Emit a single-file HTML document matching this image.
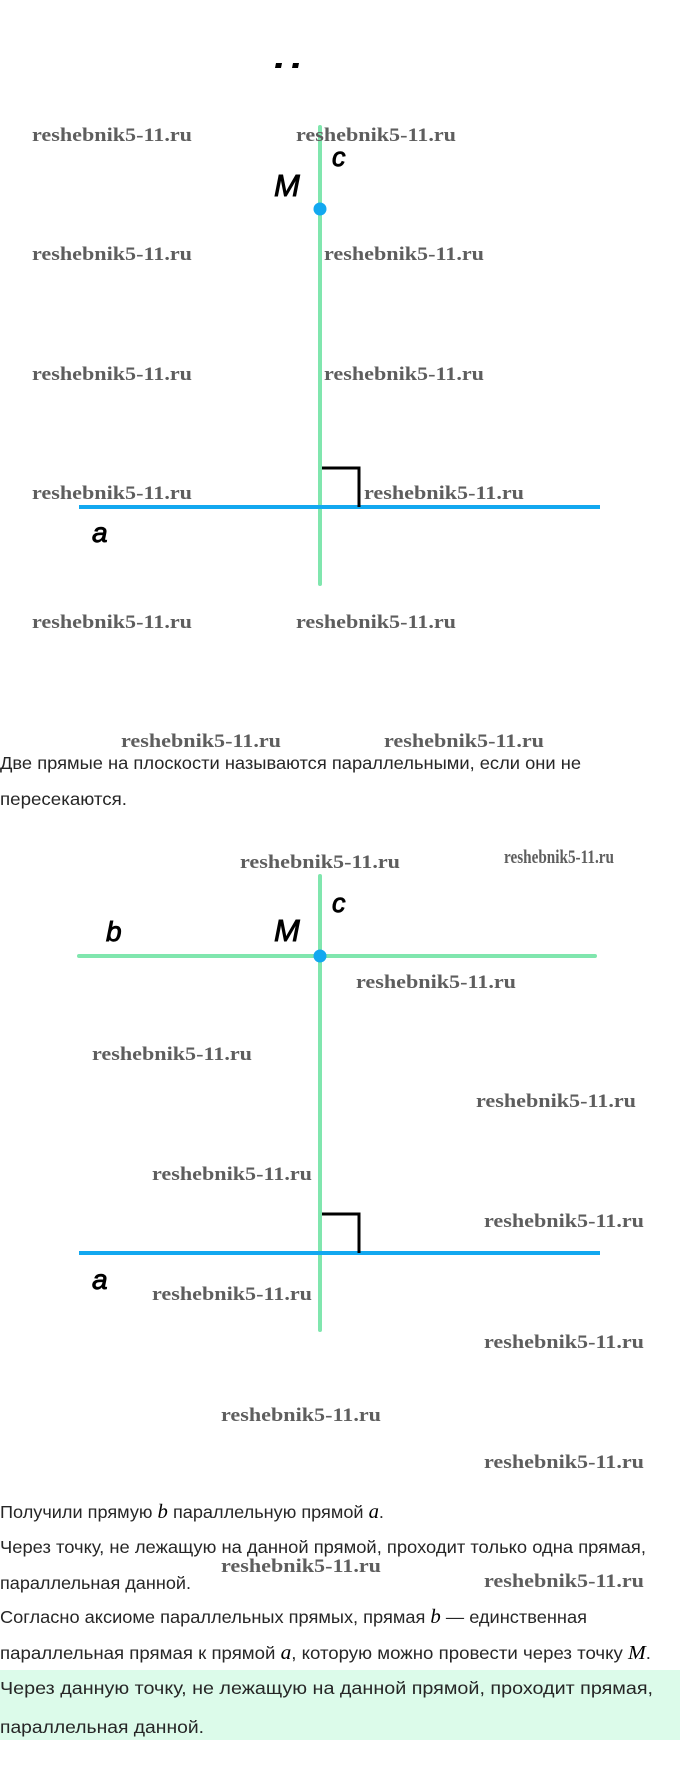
<!DOCTYPE html>
<html><head><meta charset="utf-8"><style>
html,body{margin:0;padding:0;background:#fff;}
svg{display:block;}
.w{font-family:"Liberation Serif",serif;font-weight:bold;font-size:19px;fill:#5e5e5e;}
.t{font-family:"Liberation Sans",sans-serif;font-size:17.5px;fill:#262626;}
.l{font-family:"Liberation Sans",sans-serif;font-style:italic;fill:#000;stroke:#000;stroke-width:0.9;}
.m{font-family:"Liberation Serif",serif;font-style:italic;font-size:20px;fill:#000;}
</style></head><body>
<svg width="680" height="1774" viewBox="0 0 680 1774" xmlns="http://www.w3.org/2000/svg">
<rect x="0" y="1670" width="680" height="70" fill="#dcfbea"/>
<polygon points="276,63 282,63 281,68 275,68" fill="#000"/>
<polygon points="293,63 299,63 298,68 292,68" fill="#000"/>

<line x1="320" y1="127" x2="320" y2="584" stroke="#80e6ae" stroke-width="4" stroke-linecap="round"/>
<line x1="79" y1="507" x2="600" y2="507" stroke="#12a8f0" stroke-width="4"/>
<polyline points="322,468 359,468 359,507" fill="none" stroke="#000" stroke-width="3"/>
<circle cx="320" cy="209" r="6.5" fill="#12a8f0"/>
<text class="l" x="274" y="196" font-size="31">M</text>
<text class="l" x="332" y="166" font-size="27">c</text>
<text class="l" x="92" y="542" font-size="28">a</text>

<text class="w" x="32" y="141" textLength="160" lengthAdjust="spacingAndGlyphs">reshebnik5-11.ru</text>
<text class="w" x="296" y="141" textLength="160" lengthAdjust="spacingAndGlyphs">reshebnik5-11.ru</text>
<text class="w" x="32" y="260" textLength="160" lengthAdjust="spacingAndGlyphs">reshebnik5-11.ru</text>
<text class="w" x="324" y="260" textLength="160" lengthAdjust="spacingAndGlyphs">reshebnik5-11.ru</text>
<text class="w" x="32" y="380" textLength="160" lengthAdjust="spacingAndGlyphs">reshebnik5-11.ru</text>
<text class="w" x="324" y="380" textLength="160" lengthAdjust="spacingAndGlyphs">reshebnik5-11.ru</text>
<text class="w" x="32" y="499" textLength="160" lengthAdjust="spacingAndGlyphs">reshebnik5-11.ru</text>
<text class="w" x="364" y="499" textLength="160" lengthAdjust="spacingAndGlyphs">reshebnik5-11.ru</text>
<text class="w" x="32" y="628" textLength="160" lengthAdjust="spacingAndGlyphs">reshebnik5-11.ru</text>
<text class="w" x="296" y="628" textLength="160" lengthAdjust="spacingAndGlyphs">reshebnik5-11.ru</text>

<text class="w" x="121" y="747" textLength="160" lengthAdjust="spacingAndGlyphs">reshebnik5-11.ru</text>
<text class="w" x="384" y="747" textLength="160" lengthAdjust="spacingAndGlyphs">reshebnik5-11.ru</text>
<text class="t" x="0" y="769" textLength="581" lengthAdjust="spacingAndGlyphs">Две прямые на плоскости называются параллельными, если они не</text>
<text class="t" x="0" y="805" textLength="127" lengthAdjust="spacingAndGlyphs">пересекаются.</text>

<line x1="320" y1="876" x2="320" y2="1330" stroke="#80e6ae" stroke-width="4" stroke-linecap="round"/>
<line x1="79" y1="956" x2="595" y2="956" stroke="#80e6ae" stroke-width="4" stroke-linecap="round"/>
<line x1="79" y1="1253" x2="600" y2="1253" stroke="#12a8f0" stroke-width="4"/>
<polyline points="322,1214 359,1214 359,1253" fill="none" stroke="#000" stroke-width="3"/>
<circle cx="320" cy="956" r="6.5" fill="#12a8f0"/>
<text class="l" x="274" y="941" font-size="31">M</text>
<text class="l" x="332" y="912" font-size="27">c</text>
<text class="l" x="106" y="941" font-size="28">b</text>
<text class="l" x="92" y="1289" font-size="28">a</text>

<text class="w" x="240" y="868" textLength="160" lengthAdjust="spacingAndGlyphs">reshebnik5-11.ru</text>
<text class="w" x="504" y="863" font-size="12" textLength="110" lengthAdjust="spacingAndGlyphs">reshebnik5-11.ru</text>
<text class="w" x="356" y="988" textLength="160" lengthAdjust="spacingAndGlyphs">reshebnik5-11.ru</text>
<text class="w" x="92" y="1060" textLength="160" lengthAdjust="spacingAndGlyphs">reshebnik5-11.ru</text>
<text class="w" x="476" y="1107" textLength="160" lengthAdjust="spacingAndGlyphs">reshebnik5-11.ru</text>
<text class="w" x="152" y="1180" textLength="160" lengthAdjust="spacingAndGlyphs">reshebnik5-11.ru</text>
<text class="w" x="484" y="1227" textLength="160" lengthAdjust="spacingAndGlyphs">reshebnik5-11.ru</text>
<text class="w" x="152" y="1300" textLength="160" lengthAdjust="spacingAndGlyphs">reshebnik5-11.ru</text>
<text class="w" x="484" y="1348" textLength="160" lengthAdjust="spacingAndGlyphs">reshebnik5-11.ru</text>
<text class="w" x="221" y="1421" textLength="160" lengthAdjust="spacingAndGlyphs">reshebnik5-11.ru</text>
<text class="w" x="484" y="1468" textLength="160" lengthAdjust="spacingAndGlyphs">reshebnik5-11.ru</text>

<text class="t" x="0" y="1518" textLength="384" lengthAdjust="spacingAndGlyphs">Получили прямую <tspan class="m">b</tspan> параллельную прямой <tspan class="m">a</tspan>.</text>
<text class="t" x="0" y="1553" textLength="646" lengthAdjust="spacingAndGlyphs">Через точку, не лежащую на данной прямой, проходит только одна прямая,</text>
<text class="w" x="221" y="1572" textLength="160" lengthAdjust="spacingAndGlyphs">reshebnik5-11.ru</text>
<text class="t" x="0" y="1589" textLength="191" lengthAdjust="spacingAndGlyphs">параллельная данной.</text>
<text class="w" x="484" y="1587" textLength="160" lengthAdjust="spacingAndGlyphs">reshebnik5-11.ru</text>
<text class="t" x="0" y="1623" textLength="587" lengthAdjust="spacingAndGlyphs">Согласно аксиоме параллельных прямых, прямая <tspan class="m">b</tspan> — единственная</text>
<text class="t" x="0" y="1659" textLength="651" lengthAdjust="spacingAndGlyphs">параллельная прямая к прямой <tspan class="m">a</tspan>, которую можно провести через точку <tspan class="m">M</tspan>.</text>
<text class="t" x="0" y="1694" textLength="653" lengthAdjust="spacingAndGlyphs">Через данную точку, не лежащую на данной прямой, проходит прямая,</text>
<text class="t" x="0" y="1733" textLength="204" lengthAdjust="spacingAndGlyphs">параллельная данной.</text>
</svg>
</body></html>
